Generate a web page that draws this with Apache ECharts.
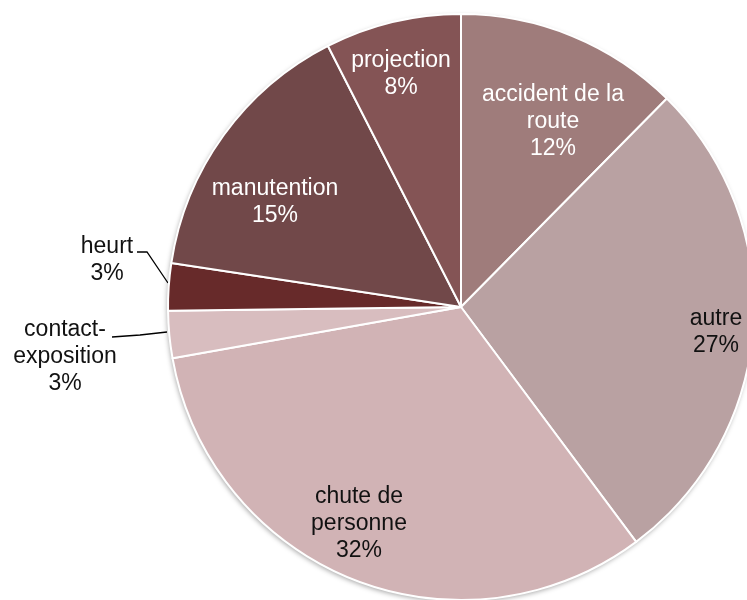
<!DOCTYPE html>
<html><head><meta charset="utf-8">
<script src="https://cdn.jsdelivr.net/npm/echarts@6/dist/echarts.min.js"></script>
<style>html,body{margin:0;padding:0;background:#fff}#c{width:747px;height:600px}</style>
</head><body><div id="c"></div>
<script>
// Data
const categories = ['accident de la\nroute', 'autre', 'chute de\npersonne', 'contact-\nexposition', 'heurt', 'manutention', 'projection'];
const values = [12.4, 27.4, 32.4, 2.6, 2.6, 15.1, 7.5];

// Styles / layout
const colors = ['#9f7c7b', '#b9a1a2', '#d1b3b5', '#d8bdbf', '#672a2a', '#714849', '#845455'];
const textColors = ['#fff', '#111', '#111', '#111', '#111', '#fff', '#fff'];
const CX = 461, CY = 307, R = 293;
const labelOffsets = [[92, -185], [255, 25], [-102, 217], [-396, 50], [-354, -47], [-186, -105], [-60, -233]];
const leaderLines = {
  3: [[-294, 25], [-321, 28], [-349, 30]],
  4: [[-293, -24], [-314, -55], [-324, -55]]
};

const total = values.reduce((a, b) => a + b, 0);
const data = categories.map((name, i) => ({
  name: name,
  value: values[i],
  itemStyle: { color: colors[i] },
  label: {
    color: textColors[i],
    position: leaderLines[i] ? 'outside' : 'inside'
  },
  labelLine: { show: !!leaderLines[i] }
}));

const chart = echarts.init(document.getElementById('c'), null, { renderer: 'canvas' });
chart.setOption({
  animation: false,
  backgroundColor: '#fff',
  series: [
    {
      type: 'pie',
      silent: true,
      center: [CX, CY],
      radius: R,
      label: { show: false },
      labelLine: { show: false },
      itemStyle: { color: '#fff', shadowColor: 'rgba(0,0,0,0.35)', shadowBlur: 5, shadowOffsetX: -1, shadowOffsetY: 2 },
      data: [{ value: 1, name: '' }],
      z: 1
    },
    {
      type: 'pie',
      center: [CX, CY],
      radius: R,
      startAngle: 90,
      clockwise: true,
      avoidLabelOverlap: false,
      z: 2,
      itemStyle: { borderColor: '#fff', borderWidth: 2 },
      label: {
        show: true,
        fontFamily: 'Liberation Sans, Arial, sans-serif',
        fontSize: 23,
        lineHeight: 27,
        align: 'center',
        formatter: p => p.name + '\n' + Math.round(p.value / total * 100) + '%'
      },
      labelLine: { lineStyle: { color: '#000', width: 1.3 }, length: 10, length2: 10, smooth: false },
      labelLayout: function (p) {
        const i = p.dataIndex;
        const o = labelOffsets[i];
        const res = { x: CX + o[0], y: CY + o[1], align: 'center', verticalAlign: 'middle' };
        if (leaderLines[i]) {
          res.labelLinePoints = leaderLines[i].map(q => [CX + q[0], CY + q[1]]);
        }
        return res;
      },
      data: data
    }
  ]
});
</script>
</body></html>
